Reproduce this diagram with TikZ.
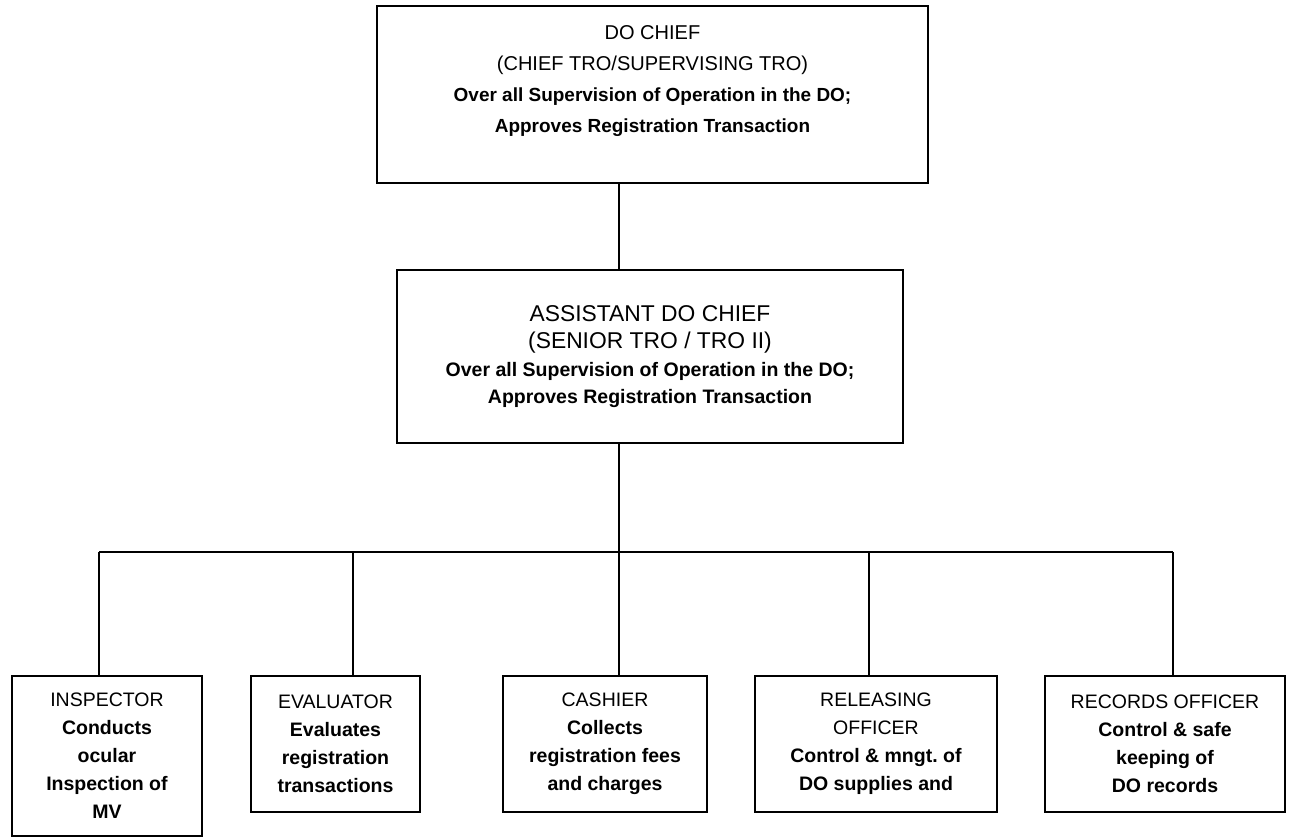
\documentclass[tikz,border=0pt]{standalone}
\usepackage{fontspec}
\setmainfont{Liberation Sans}
\usetikzlibrary{positioning}

\begin{document}
\begin{tikzpicture}[
  every node/.style={font=\fontsize{11.1}{15.9}\selectfont},
  post/.style={draw,line width=1pt,rectangle,align=center,inner sep=0pt},
  link/.style={line width=1pt}
]
\useasboundingbox (0,0) rectangle (25.78,-16.76);

% ------------------------------------------------------------
% DO chief and assistant
% ------------------------------------------------------------
\node[post, minimum width=11.02cm, minimum height=3.54cm,
      font=\fontsize{11.4}{17.5}\selectfont] (chief) at (13.05,-1.89)
  {DO CHIEF\\ (CHIEF TRO/SUPERVISING TRO)\\
   {\fontsize{10.8}{17.5}\selectfont\bfseries Over all Supervision of Operation in the DO;}\\
   {\fontsize{10.8}{17.5}\selectfont\bfseries Approves Registration Transaction}\\ \mbox{}};

\node[post, minimum width=10.12cm, minimum height=3.46cm,
      font=\fontsize{11.1}{15.5}\selectfont] (asst) at (13.00,-7.13)
  {{\fontsize{13}{16}\selectfont ASSISTANT DO CHIEF}\\
   {\fontsize{13}{16}\selectfont (SENIOR TRO / TRO II)}\\
   \textbf{Over all Supervision of Operation in the DO;}\\
   \textbf{Approves Registration Transaction}};

% ------------------------------------------------------------
% Staff boxes
% ------------------------------------------------------------
\node[post, minimum width=3.80cm, minimum height=3.20cm] (insp) at (2.14,-15.12)
  {INSPECTOR\\ \textbf{Conducts}\\ \textbf{ocular}\\ \textbf{Inspection of}\\ \textbf{MV}};
\node[post, minimum width=3.38cm, minimum height=2.72cm] (eval) at (6.71,-14.88)
  {EVALUATOR\\ \textbf{Evaluates}\\ \textbf{registration}\\ \textbf{transactions}};
\node[post, minimum width=4.08cm, minimum height=2.72cm] (cash) at (12.10,-14.88)
  {CASHIER\\ \textbf{Collects}\\ \textbf{registration fees}\\ \textbf{and charges}};
\node[post, minimum width=4.84cm, minimum height=2.72cm] (rel) at (17.52,-14.88)
  {RELEASING\\ OFFICER\\ \textbf{Control \& mngt.\ of}\\ \textbf{DO supplies and}};
\node[post, minimum width=4.80cm, minimum height=2.72cm] (rec) at (23.30,-14.88)
  {RECORDS OFFICER\\ \textbf{Control \& safe}\\ \textbf{keeping of}\\ \textbf{DO records}};

% ------------------------------------------------------------
% Reporting lines (bus and drops)
% ------------------------------------------------------------
\coordinate (hub)   at (12.38,-11.04);
\coordinate (drop1) at (1.98,-11.04);
\coordinate (drop2) at (7.06,-11.04);
\coordinate (drop4) at (17.38,-11.04);
\coordinate (drop5) at (23.46,-11.04);

\draw[link] (chief.south -| hub) -- (asst.north -| hub);
\draw[link] (asst.south -| hub) -- (hub);
\draw[link] (drop1) -- (drop5);
\draw[link] (drop1) -- (insp.north -| drop1);
\draw[link] (drop2) -- (eval.north -| drop2);
\draw[link] (hub)   -- (cash.north -| hub);
\draw[link] (drop4) -- (rel.north -| drop4);
\draw[link] (drop5) -- (rec.north -| drop5);

\end{tikzpicture}
\end{document}
